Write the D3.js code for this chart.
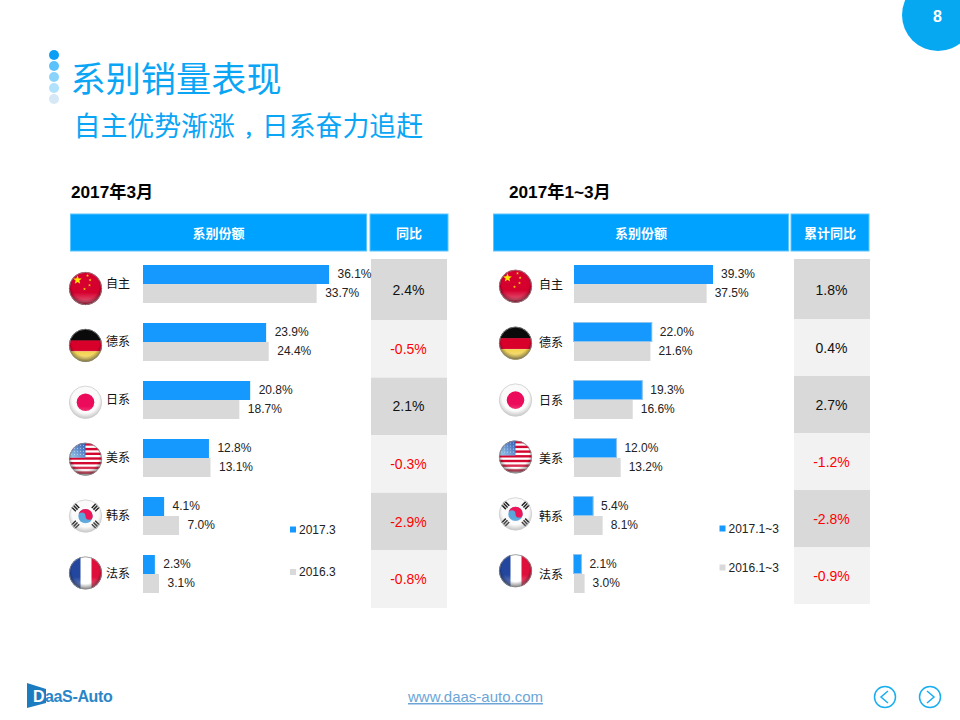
<!DOCTYPE html>
<html><head><meta charset="utf-8">
<script src="https://cdn.jsdelivr.net/npm/d3@7/dist/d3.min.js"></script>
<style>html,body{margin:0;background:#fff}svg{display:block}
text{font-family:"Liberation Sans","Noto Sans CJK SC",sans-serif}</style></head>
<body><svg id="c" width="960" height="720"></svg>
<script>
const categories=["自主","德系","日系","美系","韩系","法系"];
const flagKeys=["cn","de","jp","us","kr","fr"];
const march2017=[36.1,23.9,20.8,12.8,4.1,2.3];
const march2016=[33.7,24.4,18.7,13.1,7.0,3.1];
const marchYoy=[2.4,-0.5,2.1,-0.3,-2.9,-0.8];
const ytd2017=[39.3,22.0,19.3,12.0,5.4,2.1];
const ytd2016=[37.5,21.6,16.6,13.2,8.1,3.0];
const ytdYoy=[1.8,0.4,2.7,-1.2,-2.8,-0.9];

const svg=d3.select("#c");
const defs=svg.append("defs");
const cjk='"Noto Sans CJK SC","Liberation Sans",sans-serif';
const BLUE="#1599ff",GREY="#d9d9d9",HEAD="#00a2ff";

const gl=defs.append("radialGradient").attr("id","gloss").attr("cx","50%").attr("cy","42%").attr("r","58%");
gl.append("stop").attr("offset","0.7").attr("stop-color","#000").attr("stop-opacity",0);
gl.append("stop").attr("offset","1").attr("stop-color","#000").attr("stop-opacity",0.5);
const shine=defs.append("linearGradient").attr("id","shine").attr("x1",0).attr("x2",0).attr("y1",0).attr("y2",1);
shine.append("stop").attr("offset","0").attr("stop-color","#fff").attr("stop-opacity",0.0);
shine.append("stop").attr("offset","0.62").attr("stop-color","#fff").attr("stop-opacity",0.0);
shine.append("stop").attr("offset","0.9").attr("stop-color","#fff").attr("stop-opacity",0.32);
shine.append("stop").attr("offset","1").attr("stop-color","#fff").attr("stop-opacity",0.1);
const canton=defs.append("linearGradient").attr("id","canton").attr("x1",1).attr("x2",0).attr("y1",0).attr("y2",1);
canton.append("stop").attr("offset","0.1").attr("stop-color","#3a62b4");
canton.append("stop").attr("offset","1").attr("stop-color","#9fd2f2");
defs.append("clipPath").attr("id","flagClip").append("circle").attr("r",16.5);

svg.append("circle").attr("cx",938).attr("cy",15).attr("r",36).attr("fill","#06a8f2");
svg.append("text").attr("x",937.5).attr("y",22).attr("text-anchor","middle").attr("fill","#fff")
  .attr("font-size",16).attr("font-weight","bold").text("8");
const dotFill=["#0a9ff5","#5cc2fb","#8ad4fc","#b0e2fd","#d6e8f5"];
const dotY=d3.scalePoint().domain(d3.range(5)).range([55,99]);
svg.selectAll(".dot").data(dotFill).join("circle").attr("cx",54).attr("cy",(d,i)=>dotY(i)).attr("r",5).attr("fill",d=>d);
svg.append("text").attr("x",70.5).attr("y",91.5).attr("font-size",35.2).attr("fill","#0aa5f5").style("font-family",cjk).style("font-weight",400).text("系别销量表现");
const sub=svg.append("text").attr("x",73.5).attr("y",136).attr("font-size",26.9).attr("fill","#0aa5f5").style("font-family",cjk).style("font-weight",400);
sub.append("tspan").text("自主优势渐涨");
sub.append("tspan").attr("dx",9).attr("font-size",17.9).attr("font-weight","bold").text("，");
sub.append("tspan").text("日系奋力追赶");

function flag(g,key){
  const c=g.append("g").attr("clip-path","url(#flagClip)");
  const rect=(x,y,w,h,f)=>c.append("rect").attr("x",x).attr("y",y).attr("width",w).attr("height",h).attr("fill",f);
  if(key==="cn"){
    rect(-17,-17,34,34,"#d6002f");
    const star=(x,y,r,f)=>{const p=d3.range(10).map(i=>{const a=-Math.PI/2+i*Math.PI/5,q=i%2?r*0.42:r;return [x+q*Math.cos(a),y+q*Math.sin(a)]});
      c.append("polygon").attr("points",p.join(" ")).attr("fill",f)};
    star(-8,-8.5,4.6,"#ffe600");[[2,-13],[4.6,-8.5],[4,-3.3],[-1,0.5]].forEach(s=>star(s[0],s[1],1.5,"#ffd400"));
  } else if(key==="de"){
    rect(-17,-17,34,12.5,"#0a0a0a");rect(-17,-5,34,11,"#d8002b");rect(-17,6,34,11,"#f1cf3f");
  } else if(key==="jp"){
    rect(-17,-17,34,34,"#fafafa");
    c.append("circle").attr("r",8.8).attr("fill","#ec0a5a");
  } else if(key==="us"){
    rect(-17,-17,34,34,"#fff");
    d3.range(7).forEach(i=>rect(-17,-16+i*4.7,34,2.4,"#d3072f"));
    rect(-17,-17,17,15.5,"url(#canton)");
    d3.range(4).forEach(r=>d3.range(5).forEach(k=>c.append("circle").attr("cx",-14+k*3).attr("cy",-14+r*3).attr("r",.5).attr("fill","#fff").attr("opacity",.7)));
  } else if(key==="kr"){
    rect(-17,-17,34,34,"#fafafa");
    c.append("circle").attr("r",7.2).attr("fill","#5aa6dc");
    c.append("path").attr("d","M-7.2,0A7.2,7.2 0 0 1 7.2,0A3.6,3.6 0 0 1 0,0A3.6,3.6 0 0 0 -7.2,0Z").attr("fill","#ee1455");
    [[-10.5,-9,45],[10.5,-9,-45],[-10.5,9,-45],[10.5,9,45]].forEach(t=>{
      const m=c.append("g").attr("transform",`translate(${t[0]},${t[1]}) rotate(${t[2]})`);
      [-2.4,0,2.4].forEach(y=>m.append("rect").attr("x",-3.6).attr("y",y-.8).attr("width",7.2).attr("height",1.5).attr("fill","#222"));
    });
  } else {
    rect(-17,-17,12.5,34,"#23479e");rect(-5,-17,11,34,"#fff");rect(6,-17,11,34,"#df0f3c");
  }
  c.append("circle").attr("r",16.5).attr("fill","url(#shine)");
  c.append("circle").attr("r",16.5).attr("fill","url(#gloss)").attr("opacity",(key==="jp"||key==="kr")?0.45:1);
  g.append("circle").attr("r",16.2).attr("fill","none").attr("stroke",(key==="jp"||key==="kr")?"#cfcfcf":"#8c8c8c").attr("stroke-width",0.8);
}

function panel(o){
  const g=svg.append("g");
  g.append("text").attr("x",o.titleX).attr("y",198).attr("font-size",17.2).attr("font-weight","bold").attr("fill","#000").text(o.title);
  o.heads.forEach(h=>{
    g.append("rect").attr("x",h.x).attr("y",214).attr("width",h.w).attr("height",37).attr("fill",HEAD).attr("stroke","#5cc6ff").attr("stroke-width",1);
    g.append("text").attr("x",h.x+h.w/2).attr("y",238).attr("text-anchor","middle").attr("fill","#fff").attr("font-size",13).attr("font-weight","bold").style("font-family",cjk).text(h.t);
  });
  const x=d3.scaleLinear().domain([0,o.maxV]).range([o.x0,o.x1]);
  const row=d3.scaleBand().domain(categories).range([265,265+58*6]);
  const flagY=d3.scaleBand().domain(categories).range([o.flagCy-28.45,o.flagCy-28.45+56.9*6]);
  const cell=d3.scaleBand().domain(categories).range(o.cellRange);
  const cellTop=(d,i)=>i===0?259:cell(d);
  g.selectAll(".cell").data(categories).join("rect")
    .attr("x",o.cellX).attr("y",cellTop).attr("width",76)
    .attr("height",(d,i)=>cell(d)+cell.bandwidth()-cellTop(d,i))
    .attr("fill",(d,i)=>i%2?"#f2f2f2":"#d9d9d9");
  g.selectAll(".yoy").data(o.yoy).join("text")
    .attr("x",o.cellX+37.5).attr("y",(d,i)=>cell(categories[i])+cell.bandwidth()/2+(i===0?4:5))
    .attr("text-anchor","middle").attr("font-size",14).attr("fill",d=>d<0?"#ff0000":"#111").text(d=>d.toFixed(1)+"%");
  [[o.cur,BLUE,0],[o.prev,GREY,19]].forEach(([vals,col,dy])=>{
    g.selectAll(null).data(vals).join("rect")
      .attr("x",x(0)).attr("y",(d,i)=>row(categories[i])+dy).attr("width",d=>x(d)-x(0)).attr("height",19).attr("fill",col);
    g.selectAll(null).data(vals).join("text")
      .attr("x",d=>x(d)+o.gap).attr("y",(d,i)=>row(categories[i])+dy+12.5).attr("font-size",12).attr("fill","#222").text(d=>d.toFixed(1)+"%");
  });
  if(o.outline){
    g.selectAll(null).data(o.cur.slice(1)).join("rect")
      .attr("x",x(0)-0.5).attr("y",(d,i)=>row(categories[i+1])-0.5).attr("width",d=>x(d)-x(0)+0.5).attr("height",19)
      .attr("fill",BLUE).attr("stroke","#8fc4ee").attr("stroke-width",1);
  }
  categories.forEach((c,i)=>{
    flag(g.append("g").attr("transform",`translate(${o.flagX},${flagY(c)+28.45})`),flagKeys[i]);
    g.append("text").attr("x",o.labelX).attr("y",row(c)+o.labelDy).attr("font-size",12).attr("fill","#111").style("font-family",cjk).text(c);
  });
  o.legend.forEach(l=>{
    g.append("rect").attr("x",l.x).attr("y",l.y-3).attr("width",6).attr("height",6).attr("fill",l.c);
    g.append("text").attr("x",l.x+9).attr("y",l.y+4).attr("font-size",12).attr("fill","#222").text(l.t);
  });
}

panel({title:"2017年3月",titleX:71,heads:[{x:70.5,w:296,t:"系别份额"},{x:370,w:78,t:"同比"}],gap:8.5,
  x0:143,x1:329,maxV:36.1,cellX:371,cellRange:[262.4,608],yoy:marchYoy,cur:march2017,prev:march2016,flagX:85.5,flagCy:288.5,labelX:106,labelDy:22.5,
  legend:[{x:290,y:529.5,c:BLUE,t:"2017.3"},{x:290,y:572,c:GREY,t:"2016.3"}]});
panel({title:"2017年1~3月",titleX:509,heads:[{x:493.5,w:295,t:"系别份额"},{x:791,w:78,t:"累计同比"}],gap:8,
  x0:574,x1:713,maxV:39.3,cellX:794,cellRange:[262,604],yoy:ytdYoy,cur:ytd2017,prev:ytd2016,flagX:515.5,flagCy:286.3,labelX:539,labelDy:23.5,outline:true,
  legend:[{x:719.5,y:528.5,c:BLUE,t:"2017.1~3"},{x:719.5,y:567.5,c:GREY,t:"2016.1~3"}]});

svg.append("polygon").attr("points","27,683 46,689 46,703 27,708").attr("fill","#1c7cc0");
svg.append("text").attr("x",33).attr("y",702).attr("font-size",16).attr("font-weight","bold").attr("fill","#fff").text("D");
svg.append("text").attr("x",45).attr("y",702).attr("font-size",16).attr("font-weight","bold").attr("letter-spacing",-0.35).attr("fill","#2a86c8").text("aaS-Auto");
svg.append("text").attr("x",475.5).attr("y",702).attr("text-anchor","middle").attr("font-size",15).attr("fill","#6ca6d6").attr("text-decoration","underline").text("www.daas-auto.com");
[[885,"M888,691L881,697L888,703"],[930,"M927,691L934,697L927,703"]].forEach(n=>{
  svg.append("circle").attr("cx",n[0]).attr("cy",697).attr("r",10.5).attr("fill","none").attr("stroke","#18aef0").attr("stroke-width",1.5);
  svg.append("path").attr("d",n[1]).attr("fill","none").attr("stroke","#18aef0").attr("stroke-width",1.5);
});
</script></body></html>
